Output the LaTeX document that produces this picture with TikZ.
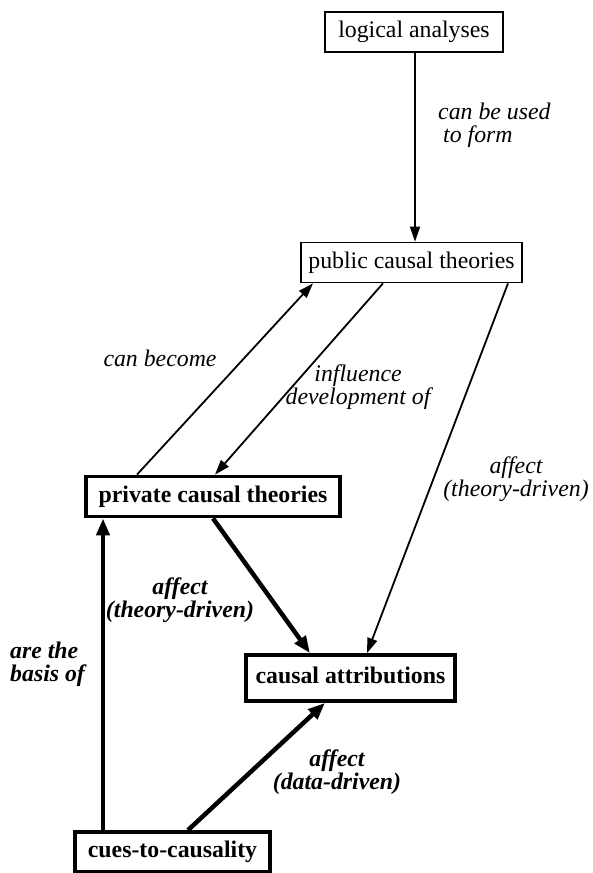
\documentclass[tikz,border=0pt]{standalone}
\usepackage{fontspec}
\setmainfont{Liberation Serif}
\usetikzlibrary{arrows.meta}
\tikzset{
  thinbox/.style={draw, line width=1.7pt, fill=white, font=\fontsize{23.8}{22}\selectfont,
    text height=16pt, text depth=5pt, inner xsep=7pt, inner ysep=9.5pt},
  thickbox/.style={draw, line width=3.8pt, fill=white, font=\fontsize{23.8}{22}\selectfont\bfseries,
    text height=16pt, text depth=5pt, inner xsep=9pt, inner ysep=9.5pt},
  thinarrow/.style={line width=1.8pt, -{Triangle[length=15pt,width=10pt]}},
  thickarrow/.style={line width=4.5pt, -{Triangle[length=17pt,width=13pt]}},
  lab/.style={font=\fontsize{23.8}{23}\selectfont\itshape, align=center, inner sep=0pt},
  blab/.style={font=\fontsize{23.8}{23}\selectfont\bfseries\itshape, align=center, inner sep=0pt},
}
\begin{document}
\begin{tikzpicture}[x=1pt,y=-1pt]
\useasboundingbox (0,0) rectangle (593,873);
\node[thinbox, minimum width=178pt] (log) at (414,32) {logical analyses};
\node[thinbox, minimum width=221pt] (pub) at (411.5,262.5) {public causal theories};
\node[thickbox, minimum width=254pt] (priv) at (213,496.5) {private causal theories};
\node[thickbox, minimum width=209pt, minimum height=46pt] (attr) at (350.5,678) {causal attributions};
\node[thickbox, minimum width=195pt] (cues) at (172.5,852) {cues-to-causality};

\draw[thinarrow] ([xshift=1pt]log.south) -- ([xshift=3.5pt]pub.north);
\draw[thinarrow] ([xshift=-76pt]priv.north) -- ([xshift=-98.5pt]pub.south);
\draw[thinarrow] ([xshift=-28.5pt]pub.south) -- ([xshift=2pt]priv.north);
\draw[thinarrow] ([xshift=96.5pt]pub.south) -- ([xshift=16.5pt]attr.north);
\draw[thickarrow] (priv.south) -- ([xshift=-40.5pt]attr.north);
\draw[thickarrow] ([xshift=-69.5pt]cues.north) -- ([xshift=-110pt]priv.south);
\draw[thickarrow] ([xshift=15.5pt]cues.north) -- ([xshift=-25.5pt]attr.south);

\node[lab, align=left, anchor=west] (l1) at (438,125) {can be used\\\hspace{5pt}to form};
\node[lab] (l2) at (160,358) {can become};
\node[lab] (l3) at (358,387) {influence\\development of};
\node[lab] (l4) at (516,479) {affect\\(theory-driven)};
\node[blab] (l5) at (180,600) {affect\\(theory-driven)};
\node[blab, align=left, anchor=west] (l6) at (10,664) {are the\\basis of};
\node[blab] (l7) at (337,772) {affect\\(data-driven)};
\end{tikzpicture}
\end{document}
